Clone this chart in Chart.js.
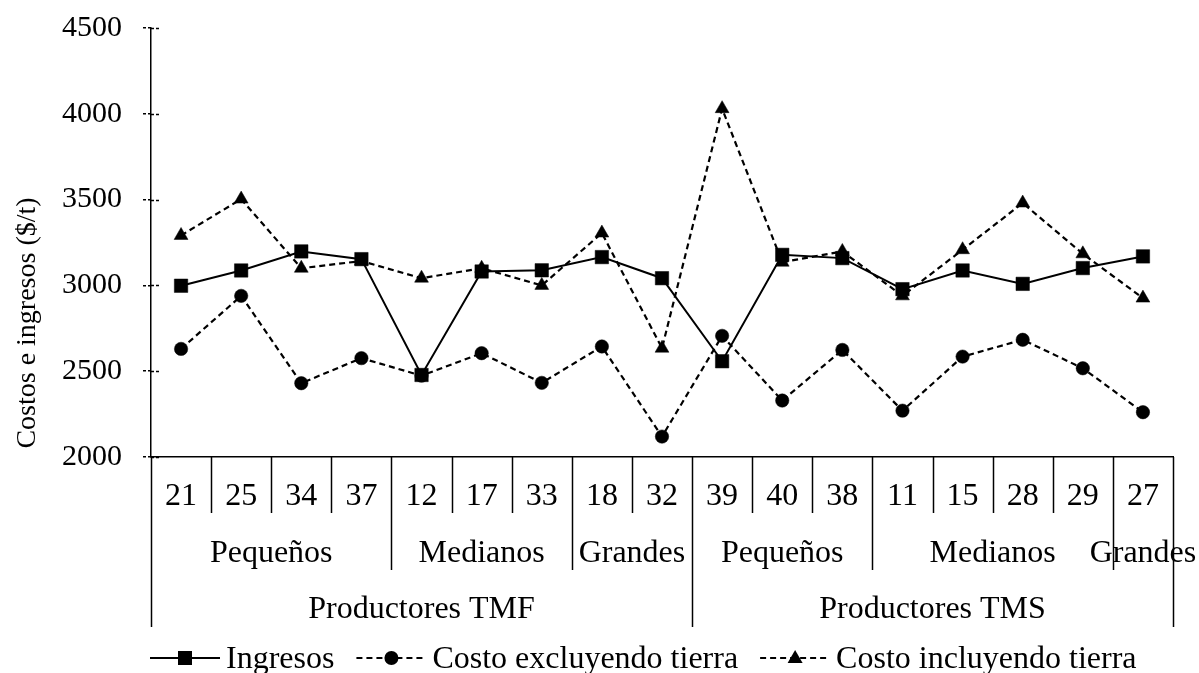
<!DOCTYPE html>
<html>
<head>
<meta charset="utf-8">
<script src="https://cdn.jsdelivr.net/npm/chart.js@4.4.0/dist/chart.umd.min.js"></script>
<style>
  html, body { margin: 0; padding: 0; background: #fff; }
</style>
</head>
<body>
<canvas id="grafico" width="1199" height="673"></canvas>
<script>
// productores (eje x, primer nivel)
const productores = ["21", "25", "34", "37", "12", "17", "33", "18", "32", "39", "40", "38", "11", "15", "28", "29", "27"];
// segundo nivel: tamaño y la posición donde empieza cada grupo
const tamanos = ["Pequeños", "Medianos", "Grandes", "Pequeños", "Medianos", "Grandes"];
const tamanoInicio = [0, 4, 7, 9, 12, 16];
// tercer nivel
const tipos = ["Productores TMF", "Productores TMS"];
const tipoInicio = [0, 9];

const ingresos = [2998, 3087, 3198, 3153, 2478, 3081, 3088, 3165, 3042, 2558, 3178, 3159, 2978, 3087, 3009, 3101, 3169];
const costoSinTierra = [2630, 2939, 2430, 2576, 2474, 2605, 2432, 2644, 2119, 2706, 2329, 2624, 2270, 2585, 2683, 2517, 2261];
const costoConTierra = [3291, 3503, 3100, 3142, 3042, 3100, 3000, 3305, 2634, 4030, 3135, 3198, 2939, 3208, 3480, 3184, 2926];

const yTicks = [2000, 2500, 3000, 3500, 4000, 4500];
const tituloY = "Costos e ingresos ($/t)";

const fuente = '"Liberation Serif", "Times New Roman", serif';
const negro = "#000";

function dibujarMarcador(ctx, tipo, x, y) {
  ctx.beginPath();
  if (tipo === "rect") {
    ctx.rect(x - 7, y - 7, 14, 14);
  } else if (tipo === "circle") {
    ctx.arc(x, y, 7, 0, Math.PI * 2);
  } else {
    ctx.moveTo(x, y - 8);
    ctx.lineTo(x + 7.5, y + 5);
    ctx.lineTo(x - 7.5, y + 5);
    ctx.closePath();
  }
  ctx.fill();
}

const niveles = {
  id: "niveles",
  afterDraw(chart) {
    const ctx = chart.ctx;
    const x = chart.scales.x;
    const y = chart.scales.y;
    const area = chart.chartArea;
    const n = productores.length;
    const borde = (i) => {
      if (i === 0) return area.left;
      if (i === n) return area.right;
      return (x.getPixelForValue(i - 1) + x.getPixelForValue(i)) / 2;
    };

    ctx.save();
    ctx.strokeStyle = negro;
    ctx.fillStyle = negro;
    ctx.lineWidth = 1.5;

    // separadores de las categorias
    for (let i = 0; i <= n; i++) {
      let fondo = 513;
      if (tamanoInicio.includes(i)) fondo = 570;
      if (tipoInicio.includes(i) || i === n) fondo = 627;
      const px = Math.round(borde(i)) + 0.5;
      ctx.beginPath();
      ctx.moveTo(px, area.bottom);
      ctx.lineTo(px, fondo);
      ctx.stroke();
    }

    // etiquetas de tamaño y tipo
    ctx.font = "32px " + fuente;
    ctx.textAlign = "center";
    ctx.textBaseline = "alphabetic";
    tamanos.forEach((t, k) => {
      const fin = k + 1 < tamanoInicio.length ? tamanoInicio[k + 1] : n;
      ctx.fillText(t, (borde(tamanoInicio[k]) + borde(fin)) / 2, 562);
    });
    tipos.forEach((t, k) => {
      const fin = k + 1 < tipoInicio.length ? tipoInicio[k + 1] : n;
      ctx.fillText(t, (borde(tipoInicio[k]) + borde(fin)) / 2, 618);
    });

    // parte interior de las marcas del eje y
    ctx.setLineDash([3, 2]);
    y.ticks.forEach((t) => {
      const py = Math.round(y.getPixelForValue(t.value)) + 0.5;
      ctx.beginPath();
      ctx.moveTo(area.left, py);
      ctx.lineTo(area.left + 9, py);
      ctx.stroke();
    });
    ctx.setLineDash([]);

    // titulo del eje y
    ctx.save();
    ctx.translate(28, 323);
    ctx.rotate(-Math.PI / 2);
    ctx.font = "28px " + fuente;
    ctx.textBaseline = "middle";
    ctx.fillText(tituloY, 0, 0);
    ctx.restore();

    // leyenda
    ctx.font = "32px " + fuente;
    ctx.textAlign = "left";
    let cx = 150;
    const ly = 658;
    chart.data.datasets.forEach((ds) => {
      ctx.lineWidth = 2;
      ctx.setLineDash(ds.borderDash || []);
      ctx.beginPath();
      ctx.moveTo(cx, ly);
      ctx.lineTo(cx + 70, ly);
      ctx.stroke();
      ctx.setLineDash([]);
      dibujarMarcador(ctx, ds.pointStyle, cx + 35, ly);
      ctx.fillText(ds.label, cx + 76, 668);
      cx += 76 + ctx.measureText(ds.label).width + 22;
    });
    ctx.restore();
  }
};

const ctx = document.getElementById("grafico").getContext("2d");
new Chart(ctx, {
  type: "line",
  data: {
    labels: productores,
    datasets: [
      {
        label: "Ingresos",
        data: ingresos,
        borderColor: negro,
        backgroundColor: negro,
        borderWidth: 2,
        pointStyle: "rect",
        pointRadius: 9.5,
        pointBorderWidth: 0.5,
        tension: 0
      },
      {
        label: "Costo excluyendo tierra",
        data: costoSinTierra,
        borderColor: negro,
        backgroundColor: negro,
        borderWidth: 2.2,
        borderDash: [6, 4],
        pointStyle: "circle",
        pointRadius: 6.7,
        pointBorderWidth: 0.5,
        tension: 0
      },
      {
        label: "Costo incluyendo tierra",
        data: costoConTierra,
        borderColor: negro,
        backgroundColor: negro,
        borderWidth: 2.2,
        borderDash: [6, 4],
        pointStyle: "triangle",
        pointRadius: 8,
        pointBorderWidth: 0.5,
        tension: 0
      }
    ]
  },
  options: {
    responsive: false,
    animation: false,
    devicePixelRatio: 1,
    layout: { padding: { top: 28, right: 26, bottom: 0, left: 0 } },
    plugins: {
      legend: { display: false },
      tooltip: { enabled: false }
    },
    scales: {
      x: {
        offset: true,
        grid: { display: false },
        border: { display: true, color: negro, width: 1.5 },
        ticks: {
          color: negro,
          font: { family: fuente, size: 32 },
          padding: 12,
          maxRotation: 0,
          autoSkip: false
        },
        afterFit: (s) => { s.height = 216; }
      },
      y: {
        min: 2000,
        max: 4500,
        afterBuildTicks: (s) => { s.ticks = yTicks.map((v) => ({ value: v })); },
        ticks: {
          color: negro,
          font: { family: fuente, size: 30 },
          padding: 21,
          callback: (v) => String(v)
        },
        grid: {
          drawOnChartArea: false,
          drawTicks: true,
          tickLength: 8,
          color: negro,
          lineWidth: 1.5,
          tickBorderDash: [3, 2]
        },
        border: { color: negro, width: 1.5, dash: [3, 2] },
        afterFit: (s) => {
          s.width = 151;
          s.paddingTop = 0;
          s.paddingBottom = 0;
        }
      }
    }
  },
  plugins: [niveles]
});
</script>
</body>
</html>
